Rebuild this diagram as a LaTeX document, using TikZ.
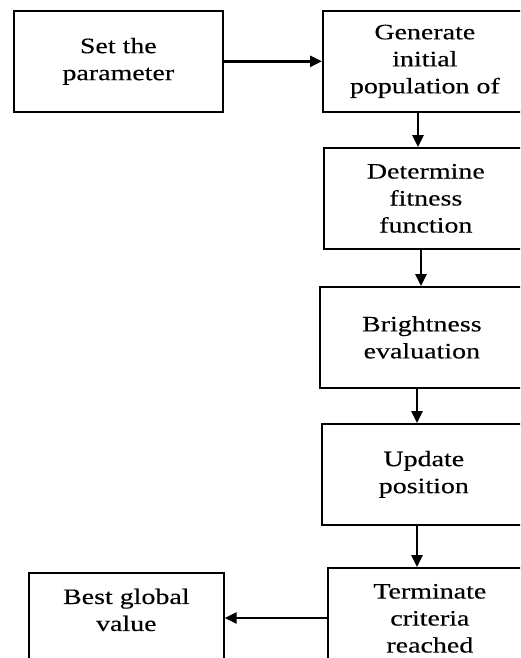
\documentclass[tikz,border=0pt]{standalone}
\usepackage{fontspec}
\setmainfont{Liberation Serif}[FakeStretch=1.27,FakeBold=0.3]
\usetikzlibrary{arrows.meta}
\begin{document}
\begin{tikzpicture}[x=1pt,y=-1pt,
  box/.style={draw, line width=1.7pt, minimum width=204pt, minimum height=101pt,
    inner sep=0pt, align=center, anchor=north west,
    font=\fontsize{22}{27}\selectfont},
  arr/.style={line width=2.6pt, -{Triangle[length=12pt,width=11pt]}}]
\useasboundingbox (0,0) rectangle (520,658);
\clip (0,0) rectangle (520,658);
\node[box, minimum width=209pt] (b1) at (13,10) {Set the\\parameter};
\node[box] (b2) at (322,10) {Generate\\initial\\population of};
\node[box] (b3) at (323,147) {Determine\\fitness\\function};
\node[box] (b4) at (319,286) {Brightness\\evaluation};
\node[box] (b5) at (321,423) {Update\\position};
\node[box] (b6) at (327,567) {Terminate\\criteria\\reached};
\node[box, minimum width=195pt] (b7) at (28,572) {Best global\\value\\\mbox{}};
\draw[arr] (b1.east) -- (b2.west);
\draw[arr] (b2.south -| 418,0) -- (b3.north -| 418,0);
\draw[arr] (b3.south -| 421,0) -- (b4.north -| 421,0);
\draw[arr] (b4.south -| 417,0) -- (b5.north -| 417,0);
\draw[arr] (b5.south -| 417,0) -- (b6.north -| 417,0);
\draw[arr] (b6.west |- 0,618) -- (b7.east |- 0,618);
\end{tikzpicture}
\end{document}
